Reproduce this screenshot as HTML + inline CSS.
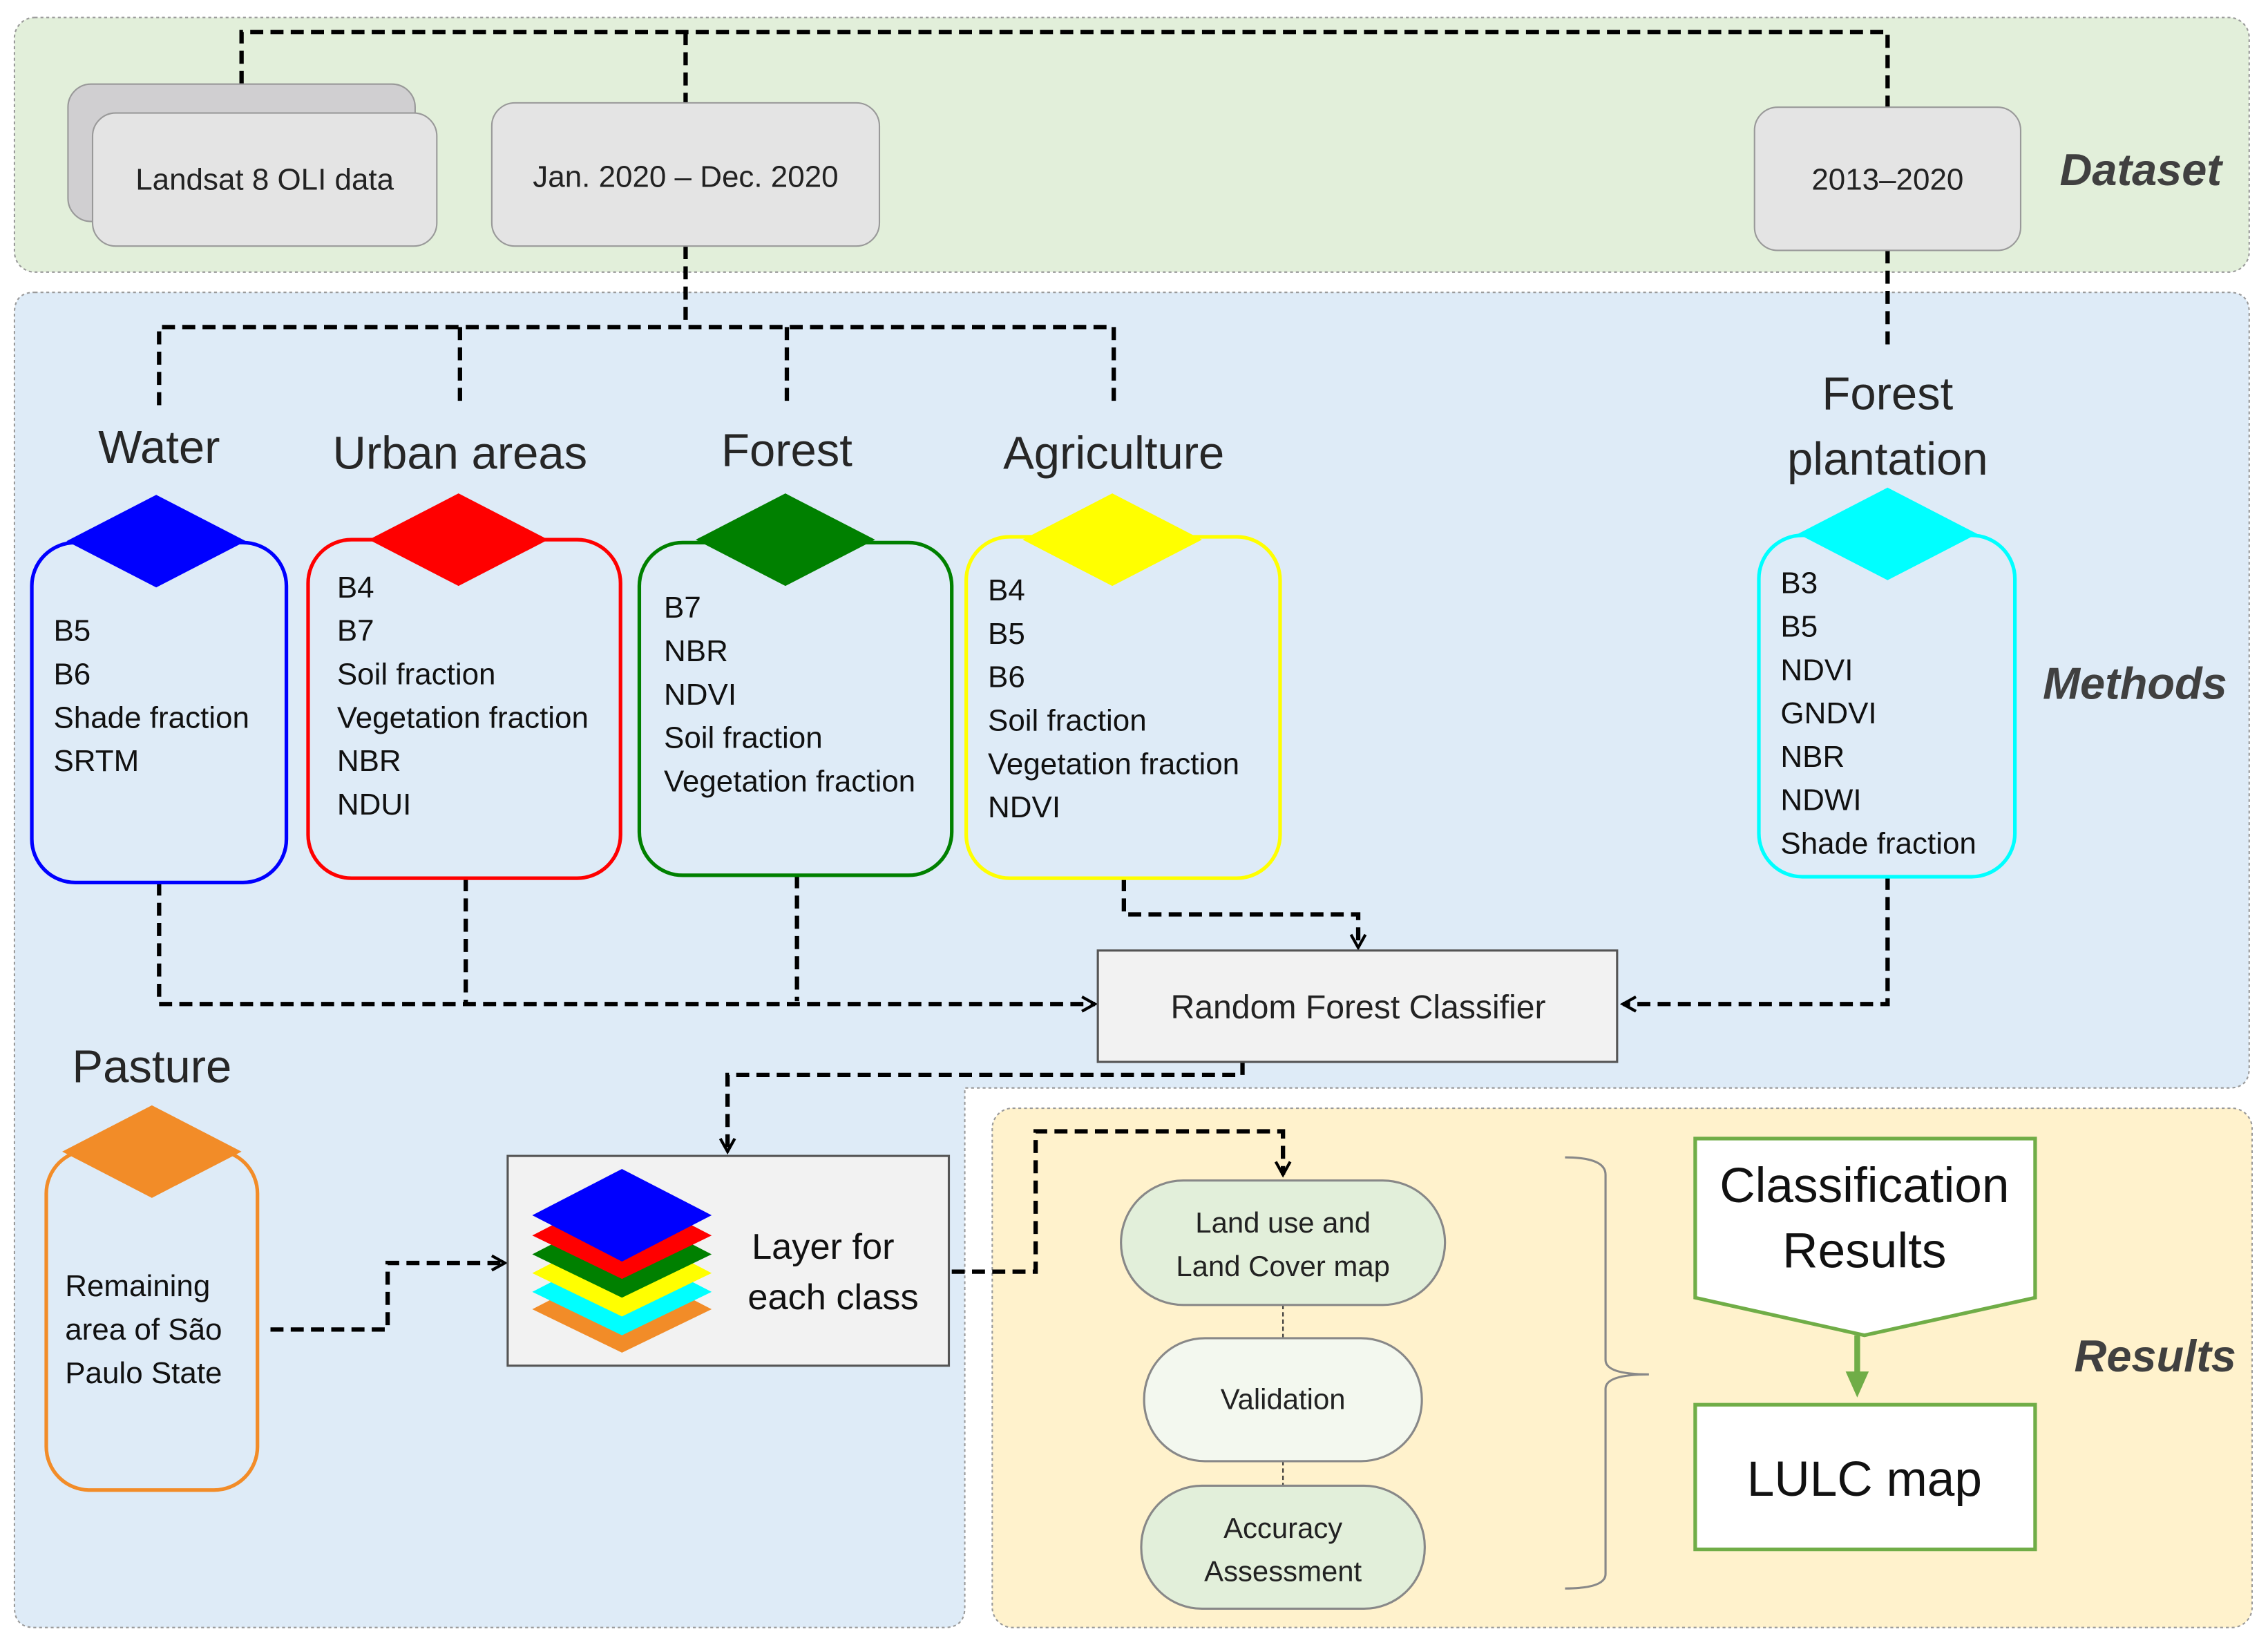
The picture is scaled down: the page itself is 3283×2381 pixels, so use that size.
<!DOCTYPE html>
<html><head><meta charset="utf-8"><style>html,body{margin:0;padding:0;background:#fff}svg{display:block}text{font-family:"Liberation Sans",sans-serif}</style></head><body>
<svg width="3283" height="2381" viewBox="0 0 1568 1137" xmlns="http://www.w3.org/2000/svg">
<defs>
<marker id="ah" markerWidth="12" markerHeight="12" refX="10" refY="6" orient="auto" markerUnits="userSpaceOnUse"><path d="M1,1 L10,6 L1,11" fill="none" stroke="#000" stroke-width="2"/></marker>
</defs>
<!-- panels -->
<rect x="10" y="12" width="1545" height="176" rx="14" fill="#e2efda" stroke="#999" stroke-dasharray="2,2"/>
<path d="M24,202 H1541 Q1555,202 1555,216 V738 Q1555,752 1541,752 H667 V1111 Q667,1125 653,1125 H24 Q10,1125 10,1111 V216 Q10,202 24,202 Z" fill="#deebf7" stroke="#999" stroke-dasharray="2,2"/>
<rect x="686" y="766" width="871" height="359" rx="14" fill="#fff2cc" stroke="#999" stroke-dasharray="2,2"/>
<!-- dataset -->
<g stroke="#000" stroke-width="3" stroke-dasharray="9,5" fill="none">
<path d="M167,58 V22 H1305 V74"/>
<path d="M474,22 V71"/>
<path d="M474,170 V226 M110,280 V226 H770 V280 M318,226 V282 M544,226 V280"/>
<path d="M1305,173 V242"/>
<path d="M110,610 V694 H757" marker-end="url(#ah)"/>
<path d="M322,607 V694 M551,605 V692"/>
<path d="M777,607 V632 H939 V655" marker-end="url(#ah)"/>
<path d="M1305,606 V694 H1122" marker-end="url(#ah)"/>
<path d="M859,734 V743 H503 V796" marker-end="url(#ah)"/>
<path d="M187,919 H268 V873 H349" marker-end="url(#ah)"/>
<path d="M658,879 H716 V782 H887 V812" marker-end="url(#ah)"/>
</g>
<rect x="47" y="58" width="240" height="95" rx="16" fill="#d0cfd1" stroke="#999"/>
<rect x="64" y="78" width="238" height="92" rx="16" fill="#e4e4e4" stroke="#999"/>
<text x="183" y="131" font-size="21" text-anchor="middle" fill="#222">Landsat 8 OLI data</text>
<rect x="340" y="71" width="268" height="99" rx="16" fill="#e4e4e4" stroke="#999"/>
<text x="474" y="129" font-size="21" text-anchor="middle" fill="#222">Jan. 2020 – Dec. 2020</text>
<rect x="1213" y="74" width="184" height="99" rx="16" fill="#e4e4e4" stroke="#999"/>
<text x="1305" y="131" font-size="21" text-anchor="middle" fill="#222">2013–2020</text>
<text x="1480" y="128" font-size="31" font-weight="bold" font-style="italic" text-anchor="middle" fill="#404040">Dataset</text>
<text x="1476" y="483" font-size="31" font-weight="bold" font-style="italic" text-anchor="middle" fill="#404040">Methods</text>
<text x="1490" y="948" font-size="31" font-weight="bold" font-style="italic" text-anchor="middle" fill="#404040">Results</text>
<!-- titles -->
<g font-size="32" text-anchor="middle" fill="#262626">
<text x="110" y="320">Water</text><text x="318" y="324">Urban areas</text><text x="544" y="322">Forest</text><text x="770" y="324">Agriculture</text>
<text x="1305" y="283">Forest</text><text x="1305" y="328">plantation</text><text x="105" y="748">Pasture</text>
</g>
<!-- class boxes -->
<g stroke-width="2.5" fill="none">
<rect x="22" y="375" width="176" height="235" rx="30" stroke="#0000ff"/>
<rect x="213" y="373" width="216" height="234" rx="30" stroke="#ff0000"/>
<rect x="442" y="375" width="216" height="230" rx="30" stroke="#008000"/>
<rect x="668" y="371" width="217" height="236" rx="30" stroke="#ffff00"/>
<rect x="1216" y="370" width="177" height="236" rx="30" stroke="#00ffff"/>
<rect x="32" y="795" width="146" height="235" rx="30" stroke="#f28c28"/>
</g>
<polygon points="46,374 108,342 170,374 108,406" fill="#0000ff"/>
<polygon points="255,373 317,341 379,373 317,405" fill="#ff0000"/>
<polygon points="481,373 543,341 605,373 543,405" fill="#008000"/>
<polygon points="707,373 769,341 831,373 769,405" fill="#ffff00"/>
<polygon points="1243,369 1305,337 1367,369 1305,401" fill="#00ffff"/>
<polygon points="43,796 105,764 167,796 105,828" fill="#f28c28"/>
<g font-size="21" fill="#111">
<text x="37" y="443">B5</text><text x="37" y="473">B6</text><text x="37" y="503">Shade fraction</text><text x="37" y="533">SRTM</text>
<text x="233" y="413">B4</text><text x="233" y="443">B7</text><text x="233" y="473">Soil fraction</text><text x="233" y="503">Vegetation fraction</text><text x="233" y="533">NBR</text><text x="233" y="563">NDUI</text>
<text x="459" y="427">B7</text><text x="459" y="457">NBR</text><text x="459" y="487">NDVI</text><text x="459" y="517">Soil fraction</text><text x="459" y="547">Vegetation fraction</text>
<text x="683" y="415">B4</text><text x="683" y="445">B5</text><text x="683" y="475">B6</text><text x="683" y="505">Soil fraction</text><text x="683" y="535">Vegetation fraction</text><text x="683" y="565">NDVI</text>
<text x="1231" y="410">B3</text><text x="1231" y="440">B5</text><text x="1231" y="470">NDVI</text><text x="1231" y="500">GNDVI</text><text x="1231" y="530">NBR</text><text x="1231" y="560">NDWI</text><text x="1231" y="590">Shade fraction</text>
<text x="45" y="896">Remaining</text><text x="45" y="926">area of São</text><text x="45" y="956">Paulo State</text>
</g>
<!-- RF -->
<rect x="759" y="657" width="359" height="77" fill="#f2f2f2" stroke="#555" stroke-width="1.5"/>
<text x="939" y="704" font-size="23" text-anchor="middle" fill="#222">Random Forest Classifier</text>
<!-- layers -->
<rect x="351" y="799" width="305" height="145" fill="#f2f2f2" stroke="#555" stroke-width="1.5"/>
<polygon points="368,905 430,873 492,905 430,935" fill="#f28c28"/>
<polygon points="368,893 430,861 492,893 430,923" fill="#00ffff"/>
<polygon points="368,880 430,848 492,880 430,910" fill="#ffff00"/>
<polygon points="368,867 430,835 492,867 430,897" fill="#008000"/>
<polygon points="368,854 430,822 492,854 430,884" fill="#ff0000"/>
<polygon points="368,840 430,808 492,840 430,872" fill="#0000ff"/>
<text x="569" y="870" font-size="25" text-anchor="middle" fill="#111">Layer for</text>
<text x="576" y="905" font-size="25" text-anchor="middle" fill="#111">each class</text>
<!-- results -->
<path d="M887,902 V925 M887,1010 V1027" stroke="#333" stroke-dasharray="3,2" fill="none"/>
<rect x="775" y="816" width="224" height="86" rx="43" fill="#e2efda" stroke="#888" stroke-width="1.5"/>
<rect x="791" y="925" width="192" height="85" rx="42" fill="#f3f8ef" stroke="#888" stroke-width="1.5"/>
<rect x="789" y="1027" width="196" height="85" rx="42" fill="#e2efda" stroke="#888" stroke-width="1.5"/>
<g font-size="20" text-anchor="middle" fill="#222">
<text x="887" y="852">Land use and</text><text x="887" y="882">Land Cover map</text>
<text x="887" y="974">Validation</text>
<text x="887" y="1063">Accuracy</text><text x="887" y="1093">Assessment</text>
</g>
<path d="M1082,800 Q1110,800 1110,812 V940 Q1110,950 1140,950 Q1110,950 1110,960 V1088 Q1110,1098 1082,1098" fill="none" stroke="#888" stroke-width="1.5"/>
<polygon points="1172,787 1407,787 1407,897 1289,923 1172,897" fill="#fff" stroke="#70ad47" stroke-width="2.5"/>
<text x="1289" y="831" font-size="34" text-anchor="middle" fill="#111">Classification</text>
<text x="1289" y="876" font-size="34" text-anchor="middle" fill="#111">Results</text>
<path d="M1284,923 V950" stroke="#70ad47" stroke-width="4"/>
<polygon points="1276,948 1292,948 1284,966" fill="#70ad47"/>
<rect x="1172" y="971" width="235" height="100" fill="#fff" stroke="#70ad47" stroke-width="2.5"/>
<text x="1289" y="1034" font-size="34" text-anchor="middle" fill="#111">LULC map</text>
</svg>
</body></html>
